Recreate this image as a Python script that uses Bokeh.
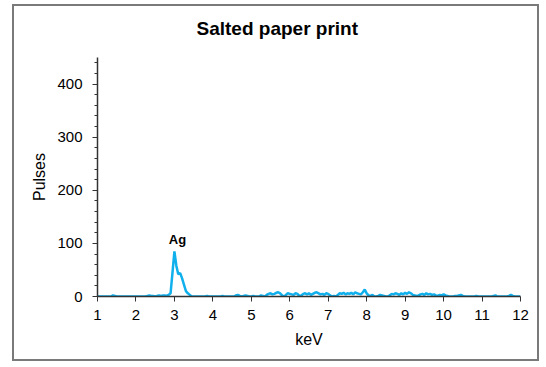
from bokeh.plotting import figure
from bokeh.models import SingleIntervalTicker, Label, FixedTicker, Title
from bokeh.embed import file_html
from bokeh.resources import INLINE

title_text = "Salted paper print"
x_label = "keV"
y_label = "Pulses"
peak_label = "Ag"
peak_pos = (3.08, 93)

kev_start = 1.0
kev_step = 0.05
pulses = [
    # 1.00 - 1.95
    0, 0, 0, 0, 0, 0, 0, 0, 2, 1, 0, 0, 0, 0, 0, 0, 0, 0, 0, 0,
    # 2.00 - 2.95
    0, 0, 0, 0, 0, 0, 1, 2, 1, 1, 0, 1, 2, 1, 2, 2, 1, 3, 6, 45,
    # 3.00 - 3.95
    85, 58, 42, 44, 34, 22, 10, 6, 3, 0, 0, 0, 0, 0, 0, 0, 0, 1, 0, 0,
    # 4.00 - 4.95
    0, 0, 0, 0, 0, 1, 0, 0, 0, 0, 0, 0, 2, 3, 1, 0, 1, 2, 1, 0,
    # 5.00 - 5.95
    0, 1, 0, 0, 0, 2, 1, 0, 3, 5, 6, 4, 5, 7, 8, 6, 2, 0, 3, 6,
    # 6.00 - 6.95
    5, 4, 3, 6, 5, 1, 2, 5, 6, 4, 6, 3, 5, 7, 8, 6, 4, 5, 3, 6,
    # 7.00 - 7.95
    5, 2, 0, 1, 0, 3, 6, 5, 7, 4, 6, 5, 7, 4, 8, 6, 5, 4, 8, 13,
    # 8.00 - 8.95
    6, 2, 1, 3, 0, 0, 1, 3, 2, 1, 0, 0, 2, 5, 4, 6, 5, 3, 6, 4,
    # 9.00 - 9.95
    7, 5, 8, 6, 3, 2, 1, 2, 4, 5, 3, 6, 4, 5, 3, 4, 2, 1, 3, 2,
    # 10.00 - 10.95
    4, 2, 1, 0, 0, 0, 1, 1, 2, 3, 1, 0, 0, 0, 0, 0, 0, 1, 0, 0,
    # 11.00 - 11.95
    0, 0, 0, 0, 0, 0, 1, 2, 0, 0, 0, 0, 0, 0, 1, 3, 1, 0, 0, 0,
    # 12.00
    0,
]
kev = [round(kev_start + kev_step * i, 2) for i in range(len(pulses))]

x_ticks = [1, 2, 3, 4, 5, 6, 7, 8, 9, 10, 11, 12]

FONT = "Liberation Sans"

p = figure(
    width=527, height=357,
    x_range=(1, 12), y_range=(0, 450),
    output_backend="svg", toolbar_location=None,
    min_border_left=83, min_border_top=51, min_border_right=21, min_border_bottom=67,
)
p.styles = {"border": "2px solid #7a7a7a", "margin-left": "12px", "margin-top": "4px"}
p.outline_line_color = None
p.grid.visible = False
p.background_fill_color = "white"
p.border_fill_color = "white"

p.line(kev, pulses, line_color="#0FB0EC", line_width=2.5)

# spacer between title and frame
p.add_layout(Title(text=" ", text_font_size="1px", standoff=11), "above")

p.title.text = title_text
p.title.align = "left"
p.title.offset = 99
p.title.standoff = 10
p.title.text_font = FONT
p.title.text_font_size = "19px"
p.title.text_font_style = "bold"
p.title.text_color = "black"

p.xaxis.ticker = FixedTicker(ticks=x_ticks)
p.xaxis.minor_tick_line_color = None
p.yaxis.ticker = SingleIntervalTicker(interval=100, num_minor_ticks=5)

for ax in (p.xaxis, p.yaxis):
    ax.axis_line_color = "#333333"
    ax.axis_line_width = 1.5
    ax.major_tick_line_color = "#333333"
    ax.major_tick_out = 5
    ax.major_tick_in = 0
    ax.major_label_text_font = FONT
    ax.major_label_text_font_size = "15px"
    ax.major_label_text_color = "black"
    ax.axis_label_text_font = FONT
    ax.axis_label_text_font_size = "16px"
    ax.axis_label_text_font_style = "normal"
    ax.axis_label_text_color = "black"

p.xaxis.major_label_standoff = 8
p.xaxis.axis_label_standoff = 8
p.yaxis.major_label_standoff = 10
p.yaxis.axis_label_standoff = 6
p.yaxis.minor_tick_line_color = "#333333"
p.yaxis.minor_tick_out = 3
p.yaxis.minor_tick_in = 0
p.xaxis.axis_label = x_label
p.yaxis.axis_label = y_label

p.add_layout(Label(x=peak_pos[0], y=peak_pos[1], text=peak_label, text_align="center",
                   text_baseline="bottom", text_font=FONT, text_font_size="13px",
                   text_font_style="bold", text_color="black"))

open("out.html", "w").write(file_html(p, INLINE))
